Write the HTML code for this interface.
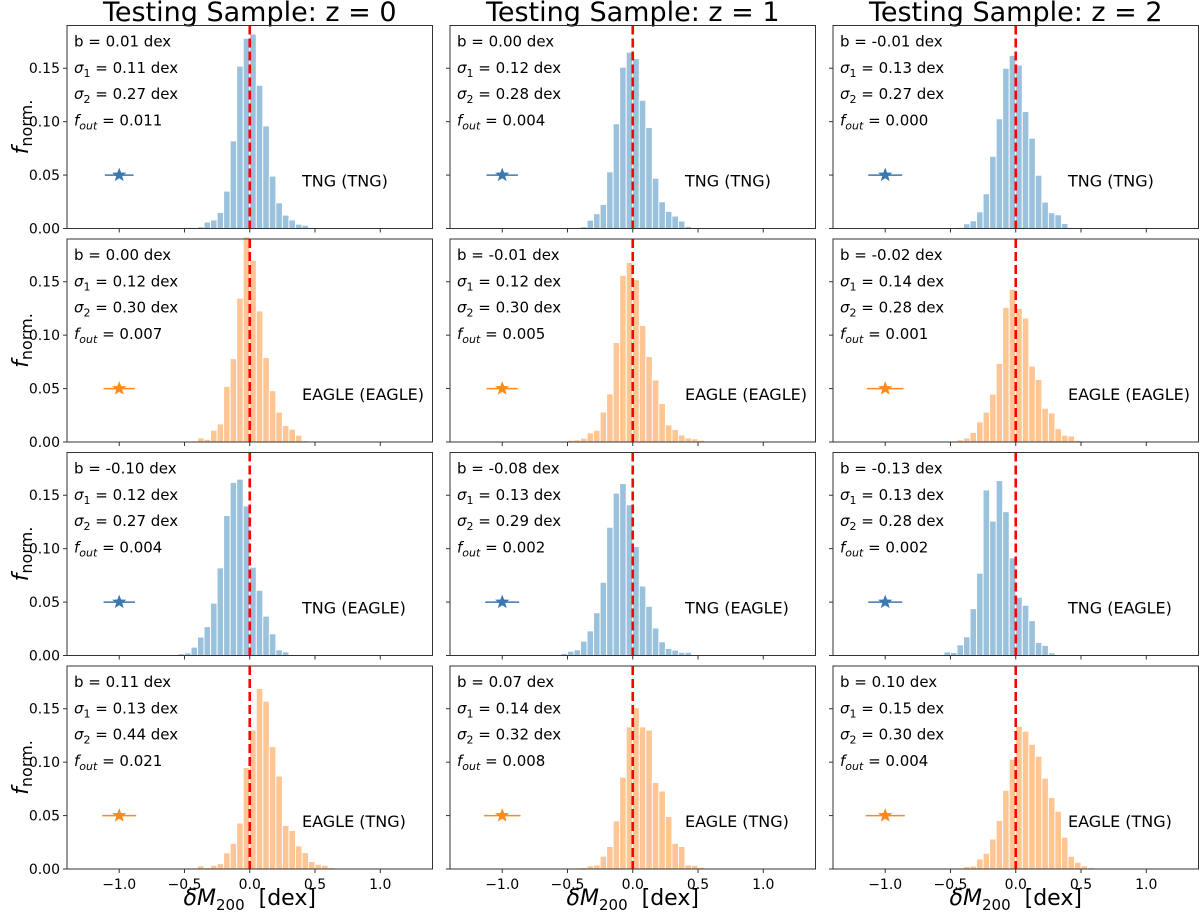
<!DOCTYPE html>
<html><head><meta charset="utf-8">
<style>
html,body{margin:0;padding:0;background:#fff;}
svg{display:block;font-family:"DejaVu Sans","Liberation Sans",sans-serif;}
</style></head>
<body>
<svg id="fig" width="1200" height="915" viewBox="0 0 1200 915" xmlns="http://www.w3.org/2000/svg"></svg>
<script>
// ---- data ----
const binStart = -0.6;
const binWidth = 0.05;
const xTicks = [-1.0, -0.5, 0.0, 0.5, 1.0];
const xTickLabels = ["\u22121.0", "\u22120.5", "0.0", "0.5", "1.0"];
const yTicks = [0.00, 0.05, 0.10, 0.15];
const yTickLabels = ["0.00", "0.05", "0.10", "0.15"];
const columnTitles = ["Testing Sample: z = 0", "Testing Sample: z = 1", "Testing Sample: z = 2"];
const rowLabels = ["TNG (TNG)", "EAGLE (EAGLE)", "TNG (EAGLE)", "EAGLE (TNG)"];
const rowColors = ["blue", "orange", "blue", "orange"];
const biasVals = [["0.01","0.00","-0.01"],["0.00","-0.01","-0.02"],["-0.10","-0.08","-0.13"],["0.11","0.07","0.10"]];
const sigma1Vals = [["0.11","0.12","0.13"],["0.12","0.12","0.14"],["0.12","0.13","0.13"],["0.13","0.14","0.15"]];
const sigma2Vals = [["0.27","0.28","0.27"],["0.30","0.30","0.28"],["0.27","0.29","0.28"],["0.44","0.32","0.30"]];
const foutVals = [["0.011","0.004","0.000"],["0.007","0.005","0.001"],["0.004","0.002","0.002"],["0.021","0.008","0.004"]];
// histogram heights, bins from -0.6 in steps of 0.05
const h_r0c0 = [0,0,0.001,0.001,0.0016,0.006,0.008,0.015,0.035,0.082,0.152,0.178,0.182,0.134,0.096,0.049,0.024,0.0125,0.008,0.004,0.003,0.001,0,0,0,0,0];
const h_r0c1 = [0,0,0.0005,0.001,0.0016,0.0078,0.0138,0.0225,0.053,0.098,0.151,0.165,0.159,0.12,0.0945,0.047,0.025,0.016,0.0116,0.007,0.002,0.0005,0,0,0,0,0];
const h_r0c2 = [0,0,0.0005,0.001,0.0044,0.0072,0.0156,0.0325,0.0676,0.1027,0.150,0.162,0.153,0.1095,0.0845,0.0498,0.0247,0.0147,0.0128,0.0047,0.001,0.0005,0,0,0,0,0];
const h_r1c0 = [0,0.0005,0.0008,0.001,0.0038,0.0025,0.011,0.0169,0.052,0.078,0.1346,0.192,0.170,0.1227,0.079,0.048,0.028,0.0153,0.012,0.0063,0.0013,0.0005,0,0,0,0,0];
const h_r1c1 = [0,0.001,0.0016,0.002,0.0035,0.0085,0.011,0.028,0.045,0.093,0.156,0.168,0.152,0.109,0.080,0.058,0.036,0.016,0.0116,0.0066,0.0038,0.003,0.0016,0,0,0,0];
const h_r1c2 = [0,0.0005,0.001,0.002,0.0038,0.009,0.0188,0.0279,0.0447,0.0736,0.126,0.143,0.125,0.116,0.071,0.0585,0.0316,0.0272,0.0125,0.0063,0.0056,0.0016,0.0005,0,0,0,0];
const h_r2c0 = [0.0005,0.0016,0.0025,0.0078,0.0172,0.027,0.049,0.082,0.131,0.162,0.165,0.14,0.0826,0.061,0.0368,0.0203,0.0053,0.0034,0.0005,0,0,0,0,0,0,0,0];
const h_r2c1 = [0.0005,0.002,0.004,0.0053,0.0134,0.023,0.040,0.0685,0.12,0.152,0.161,0.141,0.102,0.065,0.046,0.0257,0.0128,0.0066,0.005,0.003,0.003,0,0,0,0,0,0];
const h_r2c2 = [0.0005,0.0034,0.0028,0.01,0.0175,0.0438,0.077,0.1549,0.1258,0.1637,0.1346,0.0914,0.0545,0.047,0.0326,0.0122,0.0094,0.0025,0,0,0,0,0,0,0,0,0];
const h_r3c0 = [0,0,0.0005,0.0008,0.003,0.0013,0.0034,0.005,0.015,0.024,0.043,0.095,0.130,0.169,0.157,0.1145,0.087,0.0407,0.036,0.0216,0.0153,0.007,0.0044,0.0034,0.0013,0.0005,0.0005];
const h_r3c1 = [0,0.0005,0.0008,0.001,0.0013,0.003,0.0038,0.012,0.021,0.045,0.086,0.133,0.151,0.133,0.13,0.081,0.073,0.049,0.024,0.021,0.0038,0.0034,0.0016,0.0008,0.0005,0,0];
const h_r3c2 = [0,0,0.0005,0.001,0.0022,0.0028,0.0094,0.0147,0.028,0.0454,0.0736,0.1027,0.1336,0.129,0.1167,0.1055,0.085,0.067,0.054,0.0297,0.0119,0.0063,0.003,0.0013,0.0005,0,0];
const histData = [[h_r0c0,h_r0c1,h_r0c2],[h_r1c0,h_r1c1,h_r1c2],[h_r2c0,h_r2c1,h_r2c2],[h_r3c0,h_r3c1,h_r3c2]];
const markerX = -1.0;
const markerY = 0.05;

// ---- layout ----
const NS = "http://www.w3.org/2000/svg";
const svg = document.getElementById("fig");
const colX = [67, 450, 833];
const panelW = 365.5;
const rowY = [25.5, 239, 452.5, 666];
const panelH = 203;
const xMin = -1.4, xMax = 1.4, yMin = 0, yMax = 0.19;
const fills = {blue: "#1f77b4", orange: "#ff7f0e"};
const starFills = {blue: "#3b78b0", orange: "#ff8a1c"};

function mk(tag, attrs, parent) {
  const e = document.createElementNS(NS, tag);
  for (const k in attrs) e.setAttribute(k, attrs[k]);
  (parent || svg).appendChild(e);
  return e;
}
function sx(c, v) { return colX[c] + (v - xMin) / (xMax - xMin) * panelW; }
function sy(r, v) { return rowY[r] + panelH - (v - yMin) / (yMax - yMin) * panelH; }

function starPath(cx, cy, R) {
  const r = R * 0.42; let d = "";
  for (let i = 0; i < 10; i++) {
    const a = -Math.PI / 2 + i * Math.PI / 5;
    const rr = i % 2 ? r : R;
    d += (i ? "L" : "M") + (cx + rr * Math.cos(a)).toFixed(2) + " " + (cy + rr * Math.sin(a)).toFixed(2);
  }
  return d + "Z";
}

for (let c = 0; c < 3; c++) {
  const t = mk("text", {x: colX[c] + panelW / 2, y: 21, "text-anchor": "middle", "font-size": "27"});
  
  
  t.textContent = columnTitles[c];

  const xl = mk("text", {x: colX[c] + panelW / 2, y: 905, "text-anchor": "middle", "font-size": "22"});
  
  
  xl.innerHTML = '<tspan font-style="italic">\u03B4M</tspan><tspan font-size="15" dy="5">200</tspan><tspan dy="-5">\u00A0\u00A0[dex]</tspan>';
}

for (let r = 0; r < 4; r++) {
  const yl = mk("text", {transform: "translate(28," + (rowY[r] + panelH / 2) + ") rotate(-90)", "text-anchor": "middle", "font-size": "22"});
  
  
  yl.innerHTML = '<tspan font-style="italic">f</tspan><tspan font-size="16" dy="4">norm.</tspan>';

  for (let c = 0; c < 3; c++) {
    const g = mk("g", {});
    
    
    const col = rowColors[r];
    const data = histData[r][c];
    for (let i = 0; i < data.length; i++) {
      if (data[i] <= 0) continue;
      const x0 = sx(c, binStart + i * binWidth), x1 = sx(c, binStart + (i + 1) * binWidth);
      const y0 = sy(r, Math.min(data[i], yMax + 0.005));
      const b = mk("rect", {x: x0, y: y0, width: x1 - x0, height: sy(r, 0) - y0, fill: fills[col], "fill-opacity": 0.45, stroke: "#fff", "stroke-width": 0.9}, g);
      
      
    }
    const zl = mk("line", {x1: sx(c, 0), x2: sx(c, 0), y1: rowY[r], y2: rowY[r] + panelH, stroke: "#ff0000", "stroke-width": 2.6, "stroke-dasharray": "9,4"}, g);
    
    
    const s1 = parseFloat(sigma1Vals[r][c]);
    const eb = mk("line", {x1: sx(c, markerX - s1), x2: sx(c, markerX + s1), y1: sy(r, markerY), y2: sy(r, markerY), stroke: starFills[col], "stroke-width": 1.5}, g);
    
    
    const st = mk("path", {d: starPath(sx(c, markerX), sy(r, markerY), 7.5), fill: starFills[col]}, g);
    
    
    const fr = mk("rect", {x: colX[c], y: rowY[r], width: panelW, height: panelH, fill: "none", stroke: "#333", "stroke-width": 1}, g);
    
    
    for (let k = 0; k < xTicks.length; k++) {
      const tx = sx(c, xTicks[k]);
      const tk = mk("line", {x1: tx, x2: tx, y1: rowY[r] + panelH, y2: rowY[r] + panelH + 4, stroke: "#333", "stroke-width": 1}, g);
      
      
      if (r === 3) {
        const tl = mk("text", {x: tx, y: rowY[r] + panelH + 20, "text-anchor": "middle", "font-size": "14"}, g);
        
        
        tl.textContent = xTickLabels[k];
      }
    }
    for (let k = 0; k < yTicks.length; k++) {
      const ty = sy(r, yTicks[k]);
      const tk = mk("line", {x1: colX[c] - 4, x2: colX[c], y1: ty, y2: ty, stroke: "#333", "stroke-width": 1}, g);
      
      
      if (c === 0) {
        const tl = mk("text", {x: colX[c] - 7, y: ty + 5, "text-anchor": "end", "font-size": "14"}, g);
        
        
        tl.textContent = yTickLabels[k];
      }
    }
    const tx0 = colX[c] + 7, ty0 = rowY[r] + 21, dl = 26.3;
    const lines = [
      'b = ' + biasVals[r][c] + ' dex',
      '<tspan font-style="italic">\u03C3</tspan><tspan font-size="11" dy="4">1</tspan><tspan dy="-4"> = ' + sigma1Vals[r][c] + ' dex</tspan>',
      '<tspan font-style="italic">\u03C3</tspan><tspan font-size="11" dy="4">2</tspan><tspan dy="-4"> = ' + sigma2Vals[r][c] + ' dex</tspan>',
      '<tspan font-style="italic">f</tspan><tspan font-size="11" font-style="italic" dy="4">out</tspan><tspan dy="-4"> = ' + foutVals[r][c] + '</tspan>'
    ];
    const names = ['bias-annotation', 'sigma1-annotation', 'sigma2-annotation', 'fout-annotation'];
    for (let k = 0; k < 4; k++) {
      const t = mk("text", {x: tx0, y: ty0 + k * dl, "font-size": "15"}, g);
      
      
      t.innerHTML = lines[k];
    }
    const lab = mk("text", {x: colX[c] + 235, y: rowY[r] + panelH - 42, "font-size": "16"}, g);
    
    
    lab.textContent = rowLabels[r];
  }
}
</script>
</body></html>
